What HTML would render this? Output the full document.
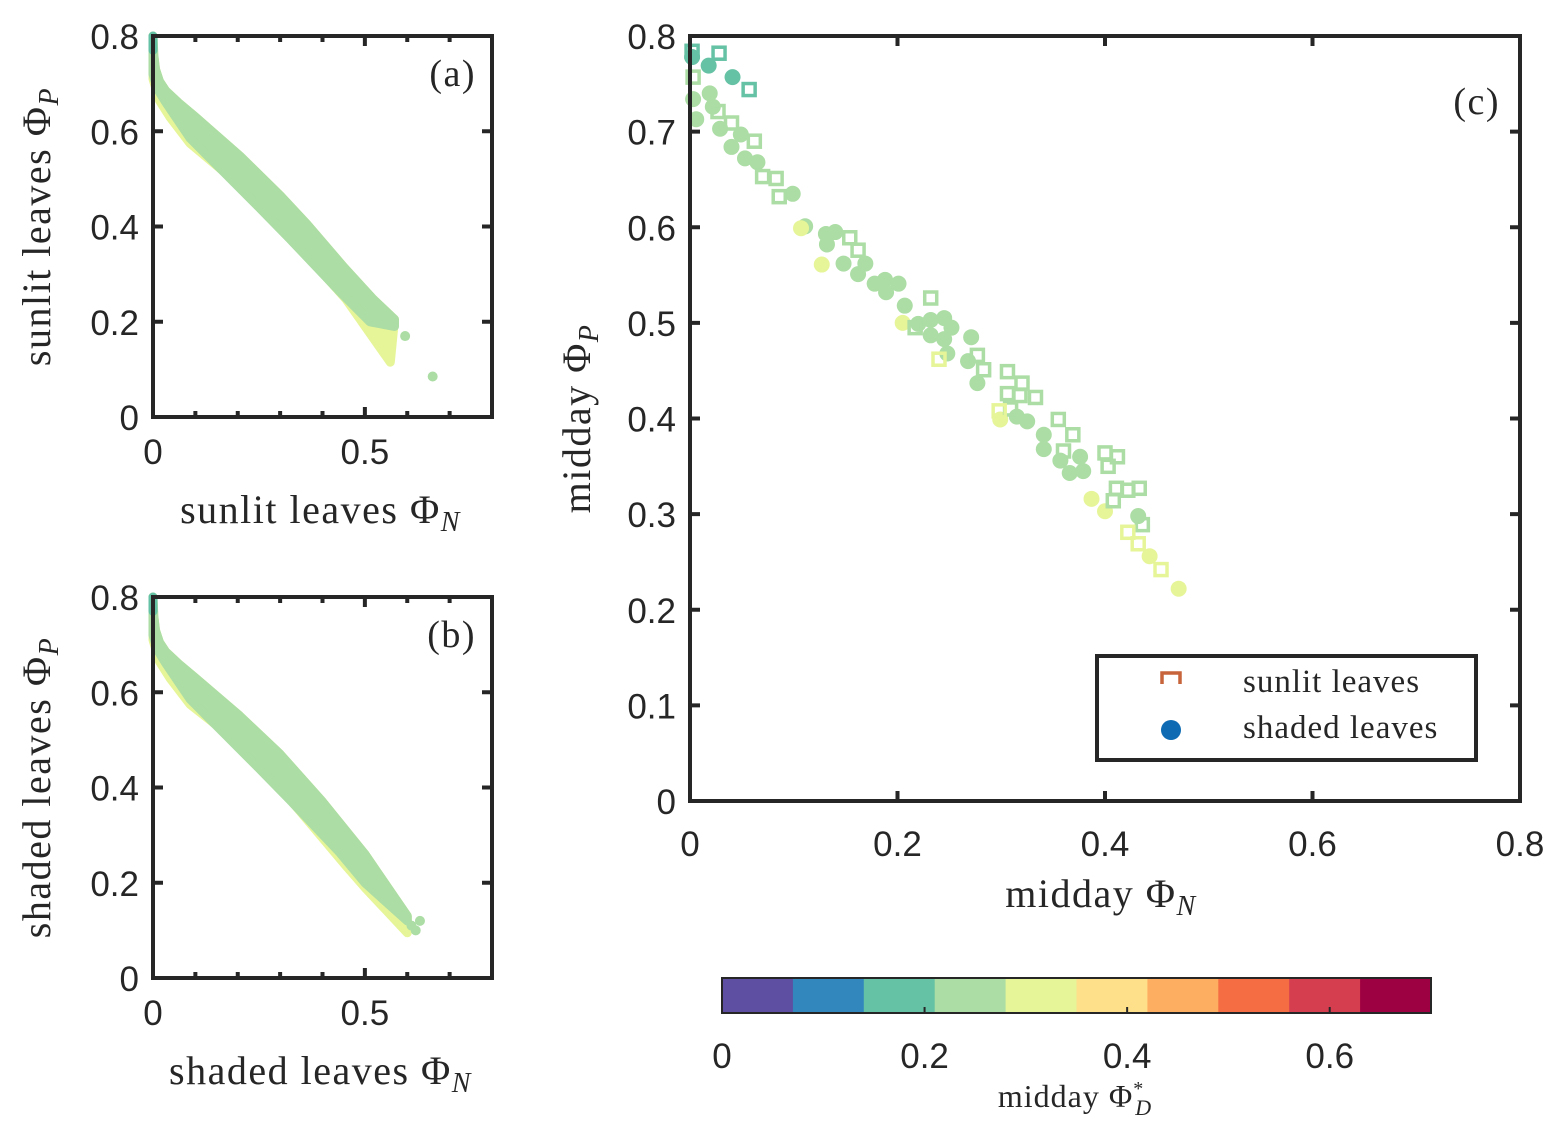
<!DOCTYPE html>
<html><head><meta charset="utf-8"><style>
html,body{margin:0;padding:0;background:#fff}
svg{display:block}
.tk{font-family:"Liberation Sans",sans-serif;font-size:35px;fill:#262626}
.lb{font-family:"Liberation Serif",serif;font-size:40px;fill:#262626;letter-spacing:1.5px}
</style></head><body>
<svg id="s" width="1565" height="1137" viewBox="0 0 1565 1137"></svg>
<script>
const cmapColors=["#5e4fa2","#3288bd","#66c2a5","#abdda4","#e6f598","#fee08b","#fdae61","#f46d43","#d53e4f","#9e0142"];
const cbTicks=[0,0.2,0.4,0.6];
const xTicksAB=[0,0.5];
const yTicks=[0,0.2,0.4,0.6,0.8];
const cTicks=[0,0.2,0.4,0.6,0.8];
const cYTicks=[0,0.1,0.2,0.3,0.4,0.5,0.6,0.7,0.8];
// panel (a) bands
const aGreenUpper=[[0,0.8],[0.002,0.76],[0.006,0.73],[0.015,0.705],[0.03,0.685],[0.06,0.66],[0.1,0.63],[0.205,0.548],[0.3,0.465],[0.363,0.405],[0.45,0.315],[0.519,0.248],[0.57,0.205]];
const aGreenLower=[[0.57,0.19],[0.512,0.2],[0.441,0.263],[0.323,0.374],[0.245,0.445],[0.087,0.586],[0.031,0.66],[0.01,0.69],[0,0.72]];
const aYellowLower=[[0.56,0.115],[0.456,0.247],[0.244,0.459],[0.158,0.522],[0.087,0.575],[0.04,0.63],[0.015,0.665],[0,0.71]];
const aDots=[[0.595,0.17],[0.66,0.085]];
// panel (b) bands
const bGreenUpper=[[0,0.8],[0.002,0.76],[0.006,0.73],[0.015,0.705],[0.03,0.685],[0.06,0.66],[0.1,0.63],[0.205,0.55],[0.3,0.47],[0.4,0.37],[0.5,0.26],[0.6,0.13]];
const bGreenLower=[[0.6,0.12],[0.5,0.2],[0.441,0.263],[0.323,0.374],[0.245,0.445],[0.087,0.586],[0.031,0.66],[0.01,0.69],[0,0.72]];
const bYellowLower=[[0.6,0.095],[0.5,0.19],[0.456,0.235],[0.244,0.459],[0.158,0.525],[0.087,0.575],[0.04,0.63],[0.015,0.665],[0,0.71]];
const bDots=[[0.59,0.13],[0.61,0.11],[0.63,0.12],[0.62,0.1]];
// panel (c): shaded leaves (circles)
const circX=[0.002,0.018,0.041,0.003,0.019,0.022,0.006,0.029,0.049,0.040,0.053,0.065,0.099,0.111,0.131,0.140,0.132,0.148,0.162,0.169,0.178,0.188,0.201,0.189,0.207,0.220,0.232,0.245,0.252,0.232,0.245,0.248,0.271,0.268,0.277,0.315,0.325,0.341,0.341,0.357,0.366,0.379,0.376,0.432,0.107,0.127,0.205,0.299,0.387,0.400,0.443,0.471];
const circY=[0.778,0.769,0.757,0.734,0.740,0.726,0.713,0.703,0.697,0.684,0.672,0.668,0.635,0.601,0.593,0.595,0.582,0.562,0.551,0.562,0.541,0.545,0.541,0.532,0.518,0.499,0.503,0.505,0.495,0.487,0.483,0.468,0.485,0.460,0.437,0.402,0.397,0.383,0.368,0.356,0.343,0.345,0.360,0.298,0.599,0.561,0.500,0.399,0.316,0.303,0.256,0.222];
const circD=[0.17,0.17,0.17,0.25,0.25,0.25,0.25,0.25,0.25,0.25,0.25,0.25,0.25,0.25,0.25,0.25,0.25,0.25,0.25,0.25,0.25,0.25,0.25,0.25,0.25,0.25,0.25,0.25,0.25,0.25,0.25,0.25,0.25,0.25,0.25,0.25,0.25,0.25,0.25,0.25,0.25,0.25,0.25,0.25,0.31,0.31,0.31,0.31,0.31,0.31,0.31,0.31];
// sunlit leaves (squares)
const sqX=[0.002,0.028,0.057,0.003,0.027,0.040,0.062,0.070,0.083,0.086,0.154,0.162,0.232,0.217,0.277,0.283,0.306,0.320,0.306,0.318,0.333,0.309,0.355,0.369,0.360,0.400,0.412,0.403,0.411,0.422,0.433,0.408,0.436,0.240,0.298,0.422,0.432,0.454];
const sqY=[0.784,0.782,0.744,0.757,0.721,0.709,0.690,0.653,0.651,0.632,0.589,0.576,0.526,0.495,0.466,0.451,0.449,0.437,0.426,0.424,0.422,0.410,0.399,0.383,0.366,0.364,0.360,0.350,0.327,0.325,0.327,0.314,0.289,0.462,0.408,0.281,0.269,0.242];
const sqD=[0.17,0.17,0.17,0.25,0.25,0.25,0.25,0.25,0.25,0.25,0.25,0.25,0.25,0.25,0.25,0.25,0.25,0.25,0.25,0.25,0.25,0.25,0.25,0.25,0.25,0.25,0.25,0.25,0.25,0.25,0.25,0.25,0.25,0.31,0.31,0.31,0.31,0.31];

const NS="http://www.w3.org/2000/svg";
const svg=document.getElementById("s");
function mk(tag,attrs,parent){const e=document.createElementNS(NS,tag);for(const k in attrs)e.setAttribute(k,attrs[k]);(parent||svg).appendChild(e);return e;}
function colorOf(v){return cmapColors[Math.max(0,Math.min(9,Math.floor(v/0.07)))];}
const AX="#262626";

function smallPanel(top,name,gU,gL,yL,dots,tag,ylab,xlab){
  const L=153,R=492,T=top,B=top+381;
  const sx=v=>L+v/0.8*(R-L), sy=v=>B-v/0.8*(B-T);
  const g=mk("g",{});
  
  
  const pts=a=>a.map(p=>sx(p[0]).toFixed(1)+","+sy(p[1]).toFixed(1)).join(" ");
  const y=mk("polygon",{points:pts(gU.concat(yL)),fill:"#e6f598",stroke:"#e6f598","stroke-width":9,"stroke-linejoin":"round"},g);
  
  
  const gr=mk("polygon",{points:pts(gU.concat(gL)),fill:"#abdda4",stroke:"#abdda4","stroke-width":9,"stroke-linejoin":"round"},g);
  
  
  dots.forEach(d=>{const c=mk("circle",{cx:sx(d[0]),cy:sy(d[1]),r:5,fill:"#abdda4"},g);
    
    });
  const tl=mk("line",{x1:sx(0),y1:sy(0.8),x2:sx(0),y2:sy(0.77),stroke:"#66c2a5","stroke-width":9,"stroke-linecap":"round"},g);
  
  
  mk("rect",{x:L,y:T,width:R-L,height:B-T,fill:"none",stroke:AX,"stroke-width":4},g);
  for(let v=0.1;v<0.8;v+=0.1){const len=Math.abs(v-0.5)<1e-6?10:6;
    mk("line",{x1:sx(v),y1:B,x2:sx(v),y2:B-len,stroke:AX,"stroke-width":4},g);
    mk("line",{x1:sx(v),y1:T,x2:sx(v),y2:T+len,stroke:AX,"stroke-width":4},g);}
  yTicks.forEach(v=>{mk("line",{x1:L,y1:sy(v),x2:L+10,y2:sy(v),stroke:AX,"stroke-width":4},g);
    mk("line",{x1:R,y1:sy(v),x2:R-10,y2:sy(v),stroke:AX,"stroke-width":4},g);
    const t=mk("text",{x:L-14,y:sy(v)+13,"text-anchor":"end",class:"tk"},g);t.textContent=v===0?"0":v.toFixed(1);
    
    });
  xTicksAB.forEach(v=>{const t=mk("text",{x:sx(v),y:B+47,"text-anchor":"middle",class:"tk"},g);t.textContent=v===0?"0":String(v);
    
    });
  const pl=mk("text",{x:R-16,y:T+50,"text-anchor":"end",class:"lb",style:"font-size:38px"},g);pl.textContent=tag;
  
  
  const yl=mk("text",{x:0,y:0,"text-anchor":"middle",class:"lb",transform:`translate(50,${(T+B)/2}) rotate(-90)`},g);
  yl.innerHTML=ylab+' Φ<tspan font-style="italic" font-size="28" dy="8">P</tspan>';
  
  
  const xl=mk("text",{x:(L+R)/2-2,y:B+106,"text-anchor":"middle",class:"lb"},g);
  xl.innerHTML=xlab+' Φ<tspan font-style="italic" font-size="28" dy="8">N</tspan>';
  
  
}
smallPanel(36,"panel-a",aGreenUpper,aGreenLower,aYellowLower,aDots,"(a)","sunlit leaves","sunlit leaves");
smallPanel(597,"panel-b",bGreenUpper,bGreenLower,bYellowLower,bDots,"(b)","shaded leaves","shaded leaves");

// panel c
(function(){
  const L=690,R=1520,T=36,B=801;
  const sx=v=>L+v/0.8*(R-L), sy=v=>B-v/0.8*(B-T);
  const g=mk("g",{});
  
  
  for(let i=0;i<circX.length;i++){const c=mk("circle",{cx:sx(circX[i]),cy:sy(circY[i]),r:8,fill:colorOf(circD[i])},g);
    
    }
  for(let i=0;i<sqX.length;i++){const c=mk("rect",{x:sx(sqX[i])-6,y:sy(sqY[i])-6,width:12,height:12,fill:"none",stroke:colorOf(sqD[i]),"stroke-width":3.5},g);
    
    }
  mk("rect",{x:L,y:T,width:R-L,height:B-T,fill:"none",stroke:AX,"stroke-width":4},g);
  cTicks.forEach(v=>{mk("line",{x1:sx(v),y1:B,x2:sx(v),y2:B-10,stroke:AX,"stroke-width":4},g);
    mk("line",{x1:sx(v),y1:T,x2:sx(v),y2:T+10,stroke:AX,"stroke-width":4},g);
    const t=mk("text",{x:sx(v),y:B+55,"text-anchor":"middle",class:"tk"},g);t.textContent=v===0?"0":v.toFixed(1);
    
    });
  cYTicks.forEach(v=>{mk("line",{x1:L,y1:sy(v),x2:L+10,y2:sy(v),stroke:AX,"stroke-width":4},g);
    mk("line",{x1:R,y1:sy(v),x2:R-10,y2:sy(v),stroke:AX,"stroke-width":4},g);
    const t=mk("text",{x:L-14,y:sy(v)+13,"text-anchor":"end",class:"tk"},g);t.textContent=v===0?"0":v.toFixed(1);
    
    });
  const pl=mk("text",{x:R-20,y:T+78,"text-anchor":"end",class:"lb",style:"font-size:38px"},g);pl.textContent="(c)";
  
  
  const yl=mk("text",{x:0,y:0,"text-anchor":"middle",class:"lb",transform:`translate(590,${(T+B)/2}) rotate(-90)`},g);
  yl.innerHTML='midday Φ<tspan font-style="italic" font-size="28" dy="8">P</tspan>';
  
  
  const xl=mk("text",{x:(L+R)/2-4,y:B+106,"text-anchor":"middle",class:"lb"},g);
  xl.innerHTML='midday Φ<tspan font-style="italic" font-size="28" dy="8">N</tspan>';
  
  
  // legend
  const lg=mk("g",{},g);
  
  
  mk("rect",{x:1097,y:656,width:379,height:104,fill:"#fff",stroke:AX,"stroke-width":4},lg);
  mk("path",{d:"M1162,684 L1162,673 L1180,673 L1180,684",fill:"none",stroke:"#c8643c","stroke-width":3.5},lg);
  mk("circle",{cx:1171,cy:730,r:10,fill:"#0e6bb3"},lg);
  const t1=mk("text",{x:1243,y:692,class:"lb",style:"font-size:33px;letter-spacing:1px"},lg);t1.textContent="sunlit leaves";
  
  
  const t2=mk("text",{x:1243,y:738,class:"lb",style:"font-size:33px;letter-spacing:1px"},lg);t2.textContent="shaded leaves";
  
  
})();

// colorbar
(function(){
  const L=722,R=1431,T=978,B=1013;
  const sx=v=>L+v/0.7*(R-L);
  const g=mk("g",{});
  
  
  cmapColors.forEach((c,i)=>{const r=mk("rect",{x:sx(i*0.07),y:T,width:sx(0.07)-sx(0)+0.5,height:B-T,fill:c},g);
    
    });
  mk("rect",{x:L,y:T,width:R-L,height:B-T,fill:"none",stroke:AX,"stroke-width":2},g);
  cbTicks.forEach(v=>{mk("line",{x1:sx(v),y1:B,x2:sx(v),y2:B-6,stroke:AX,"stroke-width":2},g);
    const t=mk("text",{x:sx(v),y:B+55,"text-anchor":"middle",class:"tk"},g);t.textContent=v===0?"0":v.toFixed(1);
    
    });
  const l=mk("text",{x:1075,y:1107,"text-anchor":"middle",class:"lb",style:"font-size:32px;letter-spacing:1px"},g);
  l.innerHTML='midday Φ<tspan font-size="20" dy="-12">*</tspan><tspan font-style="italic" font-size="22" dy="20" dx="-9">D</tspan>';
  
  
})();
</script>
</body></html>
